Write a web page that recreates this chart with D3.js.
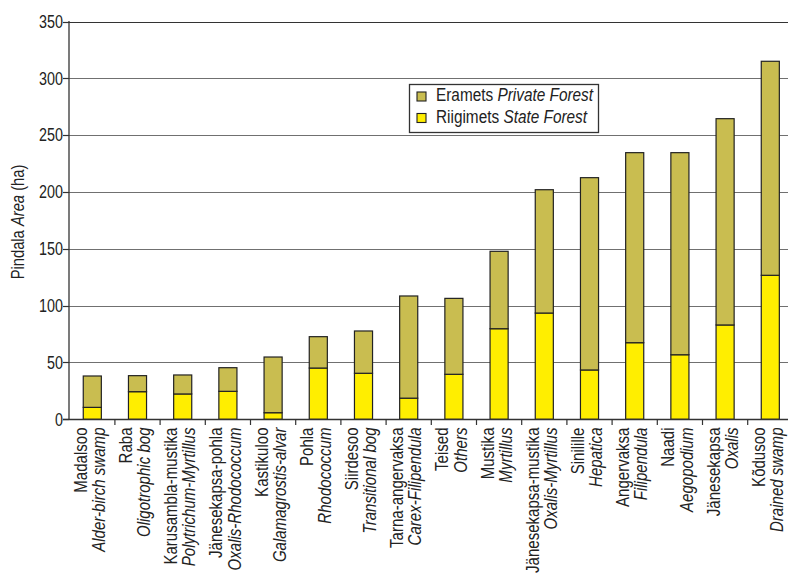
<!DOCTYPE html>
<html><head><meta charset="utf-8">
<script src="https://cdn.jsdelivr.net/npm/d3@7"></script>
<style>html,body{margin:0;padding:0;background:#fff;}svg{display:block;font-family:"Liberation Sans",Arial,sans-serif;}</style>
</head><body><svg id="c" width="788" height="574"></svg>
<script>
const categories = ["Madalsoo","Raba","Karusambla-mustika","Jänesekapsa-pohla","Kastikuloo","Pohla","Siirdesoo","Tarna-angervaksa","Teised","Mustika","Jänesekapsa-mustika","Sinilille","Angervaksa","Naadi","Jänesekapsa","Kõdusoo"];
const latinNames = ["Alder-birch swamp","Oligotrophic bog","Polytrichum-Myrtillus","Oxalis-Rhodococcum","Galamagrostis-alvar","Rhodococcum","Transitional bog","Carex-Filipendula","Others","Myrtillus","Oxalis-Myrtillus","Hepatica","Filipendula","Aegopodium","Oxalis","Drained swamp"];
const stateForest = [10.5,24.3,22.3,24.6,5.8,45.1,40.5,18.6,39.6,79.7,93.5,43.4,67.4,56.8,83.0,126.7];
const privateForest = [27.6,14.1,16.7,20.8,49.0,27.6,37.2,89.9,66.8,68.1,108.5,169.2,167.2,177.8,181.5,188.3];
const yTicks = [0,50,100,150,200,250,300,350];
const legendLabels = [["Eramets ","Private Forest"],["Riigimets ","State Forest"]];
const colors = {state:"#FFEE00", priv:"#C9BD50"};

const svg = d3.select("#c");
const y = d3.scaleLinear().domain([0,350]).range([419.3,21.5]);
const x = d3.scaleBand().domain(categories).range([69.7,69.7+16*45.2]).paddingInner(0.6).paddingOuter(0.3);

// gridlines
svg.append("g").selectAll("line").data(yTicks.filter(d=>d>0)).join("line")
  .attr("x1",69).attr("x2",788).attr("y1",d=>Math.round(y(d))+0.5).attr("y2",d=>Math.round(y(d))+0.5)
  .attr("stroke",d=>d===350?"#333":"#707070").attr("stroke-width",1.2);

// bars
const rows = categories.map((c,i)=>({cat:c, state:stateForest[i], priv:privateForest[i]}));
const stack = d3.stack().keys(["state","priv"])(rows);
svg.append("g").selectAll("g").data(stack).join("g")
  .attr("fill",d=>colors[d.key])
  .selectAll("rect").data(d=>d).join("rect")
  .attr("x",d=>x(d.data.cat)).attr("width",x.bandwidth())
  .attr("y",d=>y(d[1])).attr("height",d=>y(d[0])-y(d[1]))
  .attr("stroke","#222").attr("stroke-width",1.2);

// axes
svg.append("line").attr("x1",69).attr("x2",69).attr("y1",21).attr("y2",420).attr("stroke","#333").attr("stroke-width",1.3);
svg.append("line").attr("x1",63).attr("x2",788).attr("y1",419.5).attr("y2",419.5).attr("stroke","#333").attr("stroke-width",1.3);
svg.append("g").selectAll("line").data(yTicks).join("line")
  .attr("x1",63).attr("x2",69).attr("y1",d=>Math.round(y(d))+0.5).attr("y2",d=>Math.round(y(d))+0.5)
  .attr("stroke","#333").attr("stroke-width",1.2);
const bounds = d3.range(0,17).map(k=>x.range()[0]+k*x.step());
svg.append("g").selectAll("line").data(bounds.slice(1)).join("line")
  .attr("x1",d=>d).attr("x2",d=>d).attr("y1",419).attr("y2",425)
  .attr("stroke","#333").attr("stroke-width",1.2);

// y tick labels
svg.append("g").selectAll("text").data(yTicks).join("text")
  .attr("transform",d=>`translate(63,${y(d)+6.3}) scale(0.82,1)`)
  .attr("text-anchor","end").attr("font-size",17.5).attr("fill","#222").text(d=>d);

// y axis title
const yt = svg.append("text").attr("transform","translate(24,222) rotate(-90) scale(0.82,1)")
  .attr("text-anchor","middle").attr("font-size",18).attr("fill","#222");
yt.append("tspan").text("Pindala ");
yt.append("tspan").attr("font-style","italic").text("Area");
yt.append("tspan").text(" (ha)");

// category labels
const lab = svg.append("g").selectAll("g").data(categories).join("g");
lab.append("text")
  .attr("transform",d=>`translate(${x(d)+x.bandwidth()/2-5.6},427.5) rotate(-90) scale(0.86,1)`)
  .attr("text-anchor","end").attr("font-size",17.5).attr("fill","#222").text(d=>d);
lab.append("text")
  .attr("transform",(d,i)=>`translate(${x(d)+x.bandwidth()/2+12.7},427.5) rotate(-90) scale(0.86,1)`)
  .attr("text-anchor","end").attr("font-size",17.5).attr("font-style","italic").attr("fill","#222")
  .text((d,i)=>latinNames[i]);

// legend
const lg = svg.append("g");
lg.append("rect").attr("x",409.5).attr("y",84.5).attr("width",189).attr("height",48)
  .attr("fill","#fff").attr("stroke","#333").attr("stroke-width",1.3);
const legColors = [colors.priv, colors.state];
legendLabels.forEach((l,i)=>{
  const by = 101 + i*21.5;
  lg.append("rect").attr("x",417).attr("y",by-9).attr("width",9).attr("height",9)
    .attr("fill",legColors[i]).attr("stroke","#222").attr("stroke-width",1.1);
  const t = lg.append("text").attr("transform",`translate(436,${by}) scale(0.83,1)`)
    .attr("font-size",18.5).attr("fill","#222");
  t.append("tspan").text(l[0]);
  t.append("tspan").attr("font-style","italic").text(l[1]);
});
</script></body></html>
